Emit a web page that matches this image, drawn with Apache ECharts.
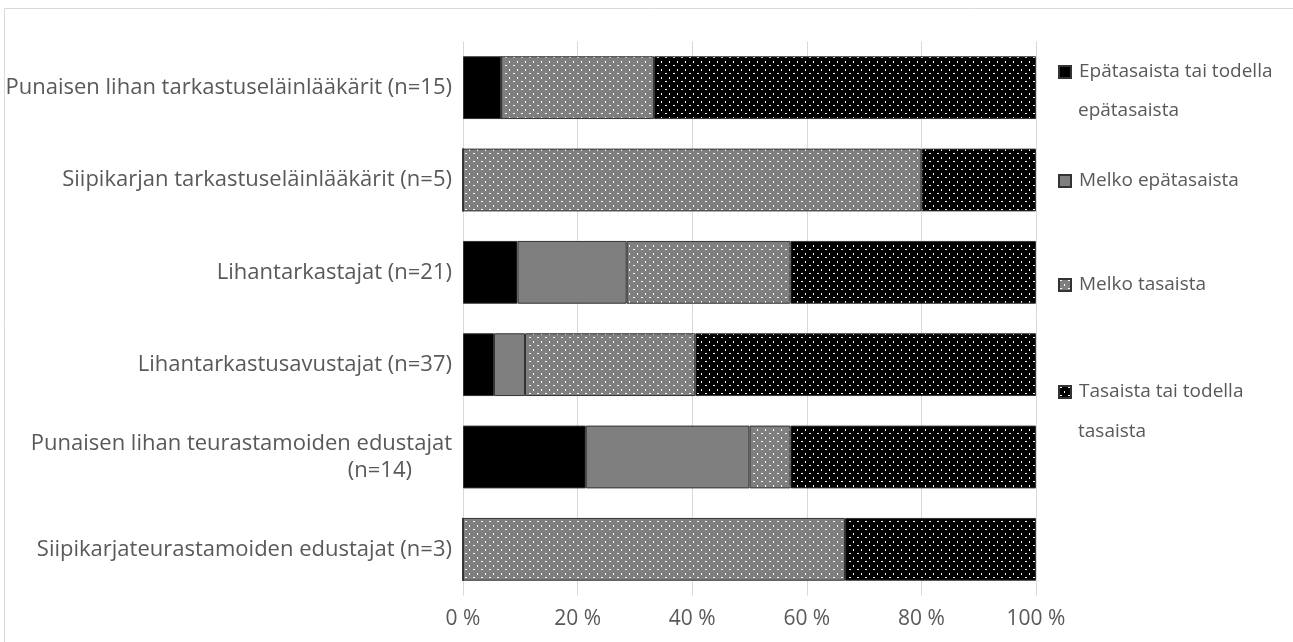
<!DOCTYPE html>
<html>
<head>
<meta charset="utf-8">
<script src="https://cdn.jsdelivr.net/npm/echarts@6/dist/echarts.min.js"></script>
<style>
html,body{margin:0;padding:0;background:#fff;}
#chart{width:1293px;height:642px;}
</style>
</head>
<body>
<div id="chart"></div>
<script>
const categories = [
  'Punaisen lihan tarkastuseläinlääkärit (n=15)',
  'Siipikarjan tarkastuseläinlääkärit (n=5)',
  'Lihantarkastajat (n=21)',
  'Lihantarkastusavustajat (n=37)',
  'Punaisen lihan teurastamoiden edustajat\n(n=14)',
  'Siipikarjateurastamoiden edustajat (n=3)'
];
const seriesNames = ['Epätasaista tai todella epätasaista', 'Melko epätasaista', 'Melko tasaista', 'Tasaista tai todella tasaista'];
const epatasaista = [6.67, 0, 9.52, 5.41, 21.43, 0];
const melkoEpatasaista = [0, 0, 19.05, 5.41, 28.57, 0];
const melkoTasaista = [26.67, 80, 28.57, 29.73, 7.14, 66.67];
const tasaista = [66.67, 20, 42.86, 59.46, 42.86, 33.33];
const xTicks = ['0 %', '20 %', '40 %', '60 %', '80 %', '100 %'];
const legendFirstLines = ['Epätasaista tai todella', 'Melko epätasaista', 'Melko tasaista', 'Tasaista tai todella'];
const legendSecondLines = ['epätasaista', '', '', 'tasaista'];

function dotPattern(bg) {
  const c = document.createElement('canvas');
  c.width = 8; c.height = 8;
  const ctx = c.getContext('2d');
  ctx.fillStyle = bg; ctx.fillRect(0, 0, 8, 8);
  ctx.fillStyle = '#ffffff';
  ctx.fillRect(1, 1, 2, 1);
  ctx.fillRect(5, 5, 1, 2);
  return c;
}
const grayDots = {image: dotPattern('#7f7f7f'), repeat: 'repeat'};
const blackDots = {image: dotPattern('#000000'), repeat: 'repeat'};

const chart = echarts.init(document.getElementById('chart'), null, {renderer: 'canvas'});
const fills = ['#000000', '#7f7f7f', grayDots, blackDots];
const values = [epatasaista, melkoEpatasaista, melkoTasaista, tasaista];
const legendCenters = [72, 181, 285, 392];
const secondLineCenters = [111, 0, 0, 432];
const FONT = 'Open Sans';

const series = seriesNames.map((n, i) => ({
  name: n,
  type: 'bar',
  stack: 'total',
  barWidth: '68%',
  data: values[i],
  itemStyle: {color: fills[i], borderColor: '#333333', borderWidth: 1},
  emphasis: {disabled: true}
}));

const graphics = [
  {type: 'rect', silent: true, shape: {x: 4.5, y: 8.5, width: 1300, height: 700},
   style: {fill: 'none', stroke: '#d9d9d9', lineWidth: 1}}
];
legendSecondLines.forEach((t, i) => {
  if (!t) return;
  graphics.push({type: 'text', silent: true, x: 1078, y: secondLineCenters[i],
    style: {text: t, fill: '#595959', fontSize: 19, fontFamily: FONT, verticalAlign: 'middle', align: 'left'}});
});

chart.setOption({
  animation: false,
  backgroundColor: '#ffffff',
  grid: {left: 463, right: 257, top: 41.5, bottom: 46.5, containLabel: false},
  xAxis: {
    type: 'value', min: 0, max: 100, interval: 20,
    axisLine: {show: false}, axisTick: {show: false},
    splitLine: {lineStyle: {color: '#d9d9d9', width: 1}},
    axisLabel: {
      margin: 13, color: '#595959', fontSize: 21, fontFamily: FONT,
      formatter: (v) => xTicks[Math.round(v / 20)]
    }
  },
  yAxis: {
    type: 'category', data: categories, inverse: true,
    axisLine: {show: false}, axisTick: {show: false},
    axisLabel: {
      margin: 11, color: '#595959', fontSize: 22, fontFamily: FONT, lineHeight: 27,
      formatter: (v) => {
        const parts = v.split('\n');
        if (parts.length === 1) return v;
        return '{a|' + parts[0] + '}\n{b|' + parts[1] + '}';
      },
      rich: {
        a: {color: '#595959', fontSize: 22, fontFamily: FONT, lineHeight: 27},
        b: {color: '#595959', fontSize: 22, fontFamily: FONT, lineHeight: 27, padding: [0, 40, 0, 0]}
      }
    }
  },
  legend: seriesNames.map((n, i) => ({
    data: [{name: n, icon: 'rect'}], orient: 'vertical', left: 1058, top: legendCenters[i] - 12,
    padding: 0, itemWidth: 12, itemHeight: 12, itemGap: 0, selectedMode: false,
    formatter: () => legendFirstLines[i],
    textStyle: {color: '#595959', fontSize: 19, fontFamily: FONT, lineHeight: 24, padding: [0, 0, 0, 3]}
  })),
  graphic: graphics,
  series: series
});
</script>
</body>
</html>
